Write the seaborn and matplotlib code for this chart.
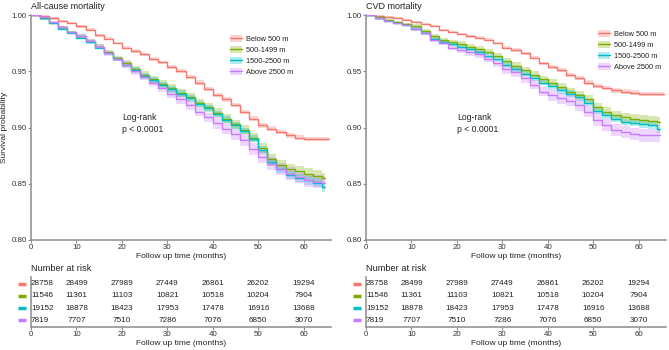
import numpy as np
import pandas as pd
import seaborn as sns
import matplotlib
matplotlib.use("Agg")
from matplotlib import pyplot as plt
from matplotlib import transforms
from matplotlib.patches import Patch
from matplotlib.lines import Line2D

groups = ["Below 500 m", "500-1499 m", "1500-2500 m", "Above 2500 m"]
colors = ["#F8766D", "#7CAE00", "#00BFC4", "#C77CFF"]

months = [0, 2, 4, 6, 8, 10, 12, 14, 16, 18, 20, 22, 24, 26, 28, 30, 32,
          34, 36, 38, 40, 42, 44, 46, 48, 50, 52, 54, 56, 58, 60, 62, 64]
end_month = [65.6, 64.6, 64.6, 64.6]

# All-cause mortality, survival
allcause_below = [1.000, 0.999, 0.997, 0.995, 0.993, 0.990, 0.987, 0.982, 0.979, 0.975, 0.971,
                  0.968, 0.965, 0.961, 0.958, 0.954, 0.950, 0.945, 0.940, 0.934, 0.929, 0.925,
                  0.920, 0.914, 0.908, 0.902, 0.899, 0.896, 0.893, 0.891, 0.890, 0.890, 0.890]
allcause_500 = [1.000, 0.997, 0.993, 0.989, 0.985, 0.981, 0.977, 0.972, 0.967, 0.962, 0.957,
                0.952, 0.947, 0.943, 0.939, 0.935, 0.931, 0.927, 0.922, 0.918, 0.913, 0.908,
                0.903, 0.898, 0.891, 0.882, 0.872, 0.867, 0.863, 0.861, 0.859, 0.857, 0.855]
allcause_1500 = [1.000, 0.997, 0.993, 0.988, 0.984, 0.980, 0.976, 0.971, 0.966, 0.961, 0.956,
                 0.951, 0.946, 0.942, 0.938, 0.934, 0.930, 0.926, 0.921, 0.917, 0.912, 0.907,
                 0.902, 0.897, 0.890, 0.880, 0.869, 0.863, 0.858, 0.855, 0.853, 0.851, 0.847]
allcause_2500 = [1.000, 0.998, 0.994, 0.989, 0.985, 0.981, 0.977, 0.972, 0.966, 0.961, 0.956,
                 0.950, 0.945, 0.940, 0.935, 0.930, 0.925, 0.920, 0.914, 0.909, 0.904, 0.899,
                 0.894, 0.889, 0.881, 0.874, 0.868, 0.863, 0.859, 0.856, 0.853, 0.852, 0.851]

# CVD mortality
cvd_below = [1.000, 0.999, 0.998, 0.997, 0.996, 0.994, 0.992, 0.990, 0.987, 0.985, 0.983,
             0.981, 0.980, 0.978, 0.975, 0.971, 0.969, 0.966, 0.962, 0.957, 0.954, 0.951,
             0.947, 0.944, 0.940, 0.937, 0.935, 0.933, 0.932, 0.931, 0.930, 0.930, 0.930]
cvd_500 = [1.000, 0.998, 0.996, 0.994, 0.992, 0.990, 0.986, 0.981, 0.978, 0.976, 0.974,
           0.972, 0.970, 0.967, 0.964, 0.959, 0.955, 0.951, 0.947, 0.943, 0.940, 0.936,
           0.932, 0.929, 0.925, 0.918, 0.914, 0.911, 0.909, 0.908, 0.907, 0.906, 0.905]
cvd_1500 = [1.000, 0.997, 0.995, 0.993, 0.991, 0.988, 0.984, 0.979, 0.976, 0.974, 0.972,
            0.970, 0.967, 0.964, 0.961, 0.956, 0.952, 0.948, 0.944, 0.940, 0.937, 0.933,
            0.930, 0.927, 0.922, 0.915, 0.911, 0.908, 0.905, 0.904, 0.903, 0.902, 0.899]
cvd_2500 = [1.000, 0.997, 0.995, 0.993, 0.991, 0.988, 0.984, 0.978, 0.975, 0.971, 0.969,
            0.967, 0.965, 0.961, 0.957, 0.952, 0.949, 0.944, 0.938, 0.932, 0.929, 0.926,
            0.924, 0.920, 0.914, 0.907, 0.902, 0.898, 0.896, 0.894, 0.893, 0.893, 0.893]

# half width of the confidence band, one value per 10-month block
ci_allcause = [[0.001, 0.0012, 0.0015, 0.0018, 0.002, 0.002, 0.002],
               [0.001, 0.002, 0.003, 0.0035, 0.004, 0.0045, 0.005],
               [0.001, 0.0015, 0.0025, 0.003, 0.003, 0.0035, 0.004],
               [0.001, 0.002, 0.003, 0.004, 0.005, 0.0055, 0.006]]
ci_cvd = [[0.0008, 0.001, 0.0012, 0.0015, 0.0018, 0.002, 0.002],
          [0.001, 0.002, 0.0025, 0.003, 0.0035, 0.004, 0.004],
          [0.001, 0.0015, 0.002, 0.0025, 0.003, 0.003, 0.0035],
          [0.001, 0.002, 0.003, 0.004, 0.005, 0.0055, 0.006]]

risk_times = [0, 10, 20, 30, 40, 50, 60]
risk_below = [28758, 28499, 27989, 27449, 26861, 26202, 19294]
risk_500 = [11546, 11361, 11103, 10821, 10518, 10204, 7904]
risk_1500 = [19152, 18878, 18423, 17953, 17478, 16916, 13688]
risk_2500 = [7819, 7707, 7510, 7286, 7076, 6850, 3070]
risk_rows = [risk_below, risk_500, risk_1500, risk_2500]

sns.set_theme(style="white")
plt.rcParams["font.family"] = ["Liberation Sans", "DejaVu Sans"]
AX_COL = "#8c8c8c"
TXT_COL = "#222222"


def style_axis(ax):
    sns.despine(ax=ax)
    for s in ["left", "bottom"]:
        ax.spines[s].set_color(AX_COL)
        ax.spines[s].set_linewidth(1.1)
    ax.tick_params(axis="both", colors=AX_COL, labelcolor="#333333", labelsize=5.7,
                   length=2, width=0.8, pad=1, bottom=True, left=True)


def draw_panel(ax, axr, curves, cis, title, ylabel, leg_anchor):
    rows = []
    for g, s, e in zip(groups, curves, end_month):
        for t, v in zip(months + [e], s + [s[-1]]):
            rows.append({"time": t, "surv": v, "group": g})
    df = pd.DataFrame(rows)

    for g, c, ci in zip(groups, colors, cis):
        d = df[df["group"] == g]
        hw = np.array(ci)[np.minimum(d["time"].values // 10, 6).astype(int)]
        ax.fill_between(d["time"], d["surv"] - hw, d["surv"] + hw, step="post",
                        color=c, alpha=0.3, lw=0, zorder=2)
    sns.lineplot(data=df, x="time", y="surv", hue="group", hue_order=groups,
                 palette=colors, estimator=None, errorbar=None, drawstyle="steps-post",
                 linewidth=1, legend=False, ax=ax, zorder=3)

    ax.set_xlim(0, 66)
    ax.set_ylim(0.80, 1.00)
    ax.set_xticks(risk_times)
    ax.set_yticks([0.80, 0.85, 0.90, 0.95, 1.00])
    ax.set_yticklabels(["0.80", "0.85", "0.90", "0.95", "1.00"])
    style_axis(ax)
    ax.set_xlabel("Follow up time (months)", fontsize=6, color=TXT_COL, labelpad=1)
    ax.set_ylabel(ylabel, fontsize=6, color=TXT_COL)
    ax.yaxis.set_label_coords(-0.077, 0.5)
    ax.set_title(title, loc="left", fontsize=6.5, color=TXT_COL, pad=4)
    ax.text(20, 0.913, "Log-rank\np < 0.0001", fontsize=6.2, color=TXT_COL,
            va="top", ha="left", linespacing=1.5)

    handles = [(Patch(facecolor=c, alpha=0.3, lw=0), Line2D([], [], color=c, lw=1))
               for c in colors]
    ax.legend(handles, groups, loc="upper left", bbox_to_anchor=leg_anchor, frameon=False,
              fontsize=5.3, handlelength=1.6, handleheight=1.1, labelspacing=0.4,
              handletextpad=0.5, borderaxespad=0, labelcolor=TXT_COL)

    # number at risk table
    axr.set_xlim(0, 66)
    axr.set_ylim(4.58, 0.42)
    style_axis(axr)
    axr.set_xticks(risk_times)
    axr.set_yticks([])
    axr.set_xlabel("Follow up time (months)", fontsize=6, color=TXT_COL, labelpad=1)
    axr.set_title("Number at risk", loc="left", fontsize=6.7, color=TXT_COL, pad=4)
    trans = transforms.blended_transform_factory(axr.transAxes, axr.transData)
    for i, (vals, c) in enumerate(zip(risk_rows, colors)):
        y = i + 1
        axr.plot([-0.042, -0.017], [y, y], color=c, lw=2.5, transform=trans,
                 clip_on=False, solid_capstyle="butt")
        for t, v in zip(risk_times, vals):
            axr.text(t, y, str(v), fontsize=5.9, color=TXT_COL, va="center",
                     ha="left" if t == 0 else "center")


fig = plt.figure(figsize=(6.69, 3.5), dpi=100)
W, H = 669, 350
ax1 = fig.add_axes([31 / W, 1 - 240 / H, 300 / W, 225 / H])
ax1r = fig.add_axes([31 / W, 1 - 327 / H, 300 / W, 50 / H])
ax2 = fig.add_axes([366 / W, 1 - 240 / H, 300 / W, 225 / H])
ax2r = fig.add_axes([366 / W, 1 - 327 / H, 300 / W, 50 / H])

draw_panel(ax1, ax1r, [allcause_below, allcause_500, allcause_1500, allcause_2500],
           ci_allcause, "All-cause mortality", "Survival probability", (0.655, 0.925))
draw_panel(ax2, ax2r, [cvd_below, cvd_500, cvd_1500, cvd_2500],
           ci_cvd, "CVD mortality", "", (0.765, 0.945))

fig.savefig("out.png", dpi=100)
